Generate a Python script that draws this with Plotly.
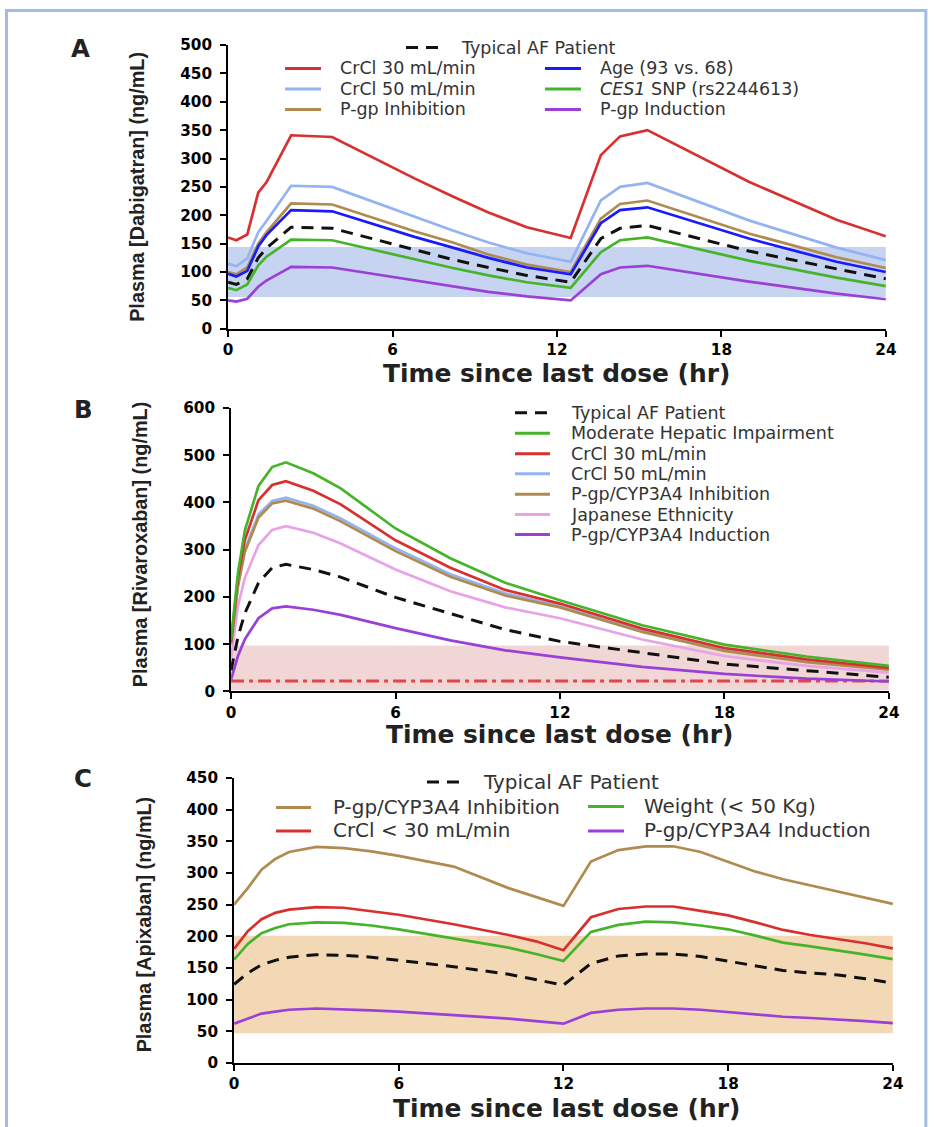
import plotly.graph_objects as go

# Figure fills the page (with the body's default 8px margin) and the photo of the
# page is scaled back to 938x1127, so reference pixel positions are mapped through
# that scale below.
W, H = 938, 1127
MARG = 8
KX = W / (W + 2 * MARG)
KY = H / (H + 2 * MARG)

# ---------------- Panel A: Dabigatran ----------------
tA = [0, 0.3, 0.7, 1.1, 1.4, 2.3, 3.8, 6.8, 8.2, 9.5, 10.9, 12.5, 13.6, 14.3, 15.3, 19, 22.2, 24]
dab_typical = [82, 78, 88, 125, 142, 179, 177, 139, 122, 108, 94, 82, 159, 177, 182, 137, 105, 88]
dab_crcl30 = [161, 156, 166, 240, 258, 341, 338, 265, 233, 205, 179, 160, 306, 339, 350, 259, 192, 163]
dab_crcl50 = [115, 110, 124, 170, 190, 252, 250, 197, 173, 152, 133, 118, 226, 250, 257, 191, 143, 121]
dab_pgp_inh = [100, 96, 108, 150, 170, 221, 219, 172, 152, 131, 113, 100, 194, 220, 226, 168, 126, 107]
dab_age = [97, 92, 102, 145, 165, 209, 207, 162, 143, 125, 108, 96, 186, 209, 214, 159, 118, 100]
dab_ces1 = [72, 68, 78, 112, 127, 157, 156, 122, 107, 94, 82, 72, 135, 156, 161, 120, 90, 75]
dab_pgp_ind = [50, 48, 53, 74, 85, 109, 108, 85, 75, 65, 57, 50, 96, 108, 111, 83, 62, 52]
bandA = [56, 144]

# ---------------- Panel B: Rivaroxaban ----------------
tB = [0, 0.25, 0.5, 1, 1.5, 2, 3, 4, 6, 8, 10, 12, 15, 18, 21, 24]
riv_typical = [45, 115, 165, 230, 262, 269, 258, 242, 199, 165, 131, 106, 82, 58, 44, 30]
riv_hepatic = [110, 250, 340, 435, 475, 485, 462, 430, 345, 282, 230, 193, 140, 99, 74, 54]
riv_crcl30 = [105, 240, 320, 405, 437, 445, 425, 396, 320, 262, 215, 186, 133, 92, 68, 50]
riv_crcl50 = [100, 225, 300, 375, 403, 410, 393, 366, 303, 248, 208, 181, 128, 88, 64, 47]
riv_inh = [100, 222, 295, 368, 398, 404, 387, 360, 297, 243, 203, 178, 126, 86, 62, 46]
riv_japanese = [70, 180, 240, 310, 342, 350, 336, 313, 258, 212, 178, 155, 110, 75, 54, 40]
riv_ind = [25, 75, 110, 155, 176, 180, 173, 162, 134, 108, 87, 72, 52, 37, 27, 21]
bandB = [3, 97]
riv_line = 22

# ---------------- Panel C: Apixaban ----------------
tC = [0, 0.5, 1, 1.5, 2, 3, 4, 5, 6, 8, 10, 11, 12, 13, 14, 15, 16, 17, 18, 19, 20, 21, 22, 23, 24]
api_typical = [124, 142, 155, 162, 167, 171, 170, 167, 162, 152, 140, 132, 123, 157, 169, 172, 172, 168, 161, 153, 146, 142, 139, 133, 126]
api_inh = [250, 276, 305, 322, 333, 341, 339, 334, 327, 310, 276, 262, 248, 318, 336, 342, 342, 333, 317, 302, 290, 280, 271, 260, 251]
api_crcl = [180, 208, 227, 237, 242, 246, 245, 240, 234, 219, 202, 192, 178, 230, 243, 247, 247, 240, 233, 222, 210, 202, 196, 189, 181]
api_weight = [163, 188, 205, 213, 219, 222, 221, 217, 211, 197, 182, 172, 161, 207, 218, 223, 222, 217, 211, 201, 190, 184, 178, 171, 164]
api_ind = [62, 70, 78, 81, 84, 86, 85, 83, 81, 76, 70, 66, 62, 79, 84, 86, 86, 84, 80, 77, 73, 71, 69, 66, 63]
bandC = [47, 201]

xticks = [0, 6, 12, 18, 24]

RED = "#d8302f"
LBLUE = "#93b3f2"
BROWN = "#b08b4f"
BLUE = "#1a1aff"
GREEN = "#46b42a"
PURPLE = "#9a40d8"
PINK = "#e8a2e6"
BLACK = "#111111"
DASH = "12px,8px"


def px(x):
    return (x / KX - MARG) / W


def py(y):
    return 1 - (y / KY - MARG) / H


def fs(s):
    return round(s / KX, 2)


fig = go.Figure()

panels = [
    ("x", "y", tA, [
        (dab_typical, BLACK, DASH),
        (dab_crcl30, RED, "solid"),
        (dab_crcl50, LBLUE, "solid"),
        (dab_pgp_inh, BROWN, "solid"),
        (dab_age, BLUE, "solid"),
        (dab_ces1, GREEN, "solid"),
        (dab_pgp_ind, PURPLE, "solid"),
    ]),
    ("x2", "y2", tB, [
        (riv_ind, PURPLE, "solid"),
        (riv_japanese, PINK, "solid"),
        (riv_crcl50, LBLUE, "solid"),
        (riv_inh, BROWN, "solid"),
        (riv_crcl30, RED, "solid"),
        (riv_hepatic, GREEN, "solid"),
        (riv_typical, BLACK, DASH),
    ]),
    ("x3", "y3", tC, [
        (api_inh, BROWN, "solid"),
        (api_crcl, RED, "solid"),
        (api_weight, GREEN, "solid"),
        (api_ind, PURPLE, "solid"),
        (api_typical, BLACK, DASH),
    ]),
]

# therapeutic range bands (drawn in data coordinates)
for (xr, yr, band, col) in [("x", "y", bandA, "#c6d4f1"), ("x2", "y2", bandB, "#f1d6d6"), ("x3", "y3", bandC, "#f3d8b6")]:
    fig.add_shape(type="rect", xref=xr, yref=yr, x0=0, x1=24, y0=band[0], y1=band[1],
                  fillcolor=col, line=dict(width=0), layer="below")

# dash-dot reference line in B
fig.add_trace(go.Scatter(x=[0, 24], y=[riv_line, riv_line], mode="lines", xaxis="x2", yaxis="y2",
                         line=dict(color="#e0474a", width=3, dash="13px,5px,4px,5px"), showlegend=False,
                         hoverinfo="skip"))

for xr, yr, t, series in panels:
    for vals, col, dash in series:
        fig.add_trace(go.Scatter(x=t, y=vals, mode="lines", xaxis=xr, yaxis=yr,
                                 line=dict(color=col, width=3 if dash != "solid" else 2.7, dash=dash),
                                 showlegend=False))

tickfont = dict(family="DejaVu Sans", size=fs(15), color="black", weight="bold")


def xaxis_cfg(x0, x1, anchor):
    return dict(domain=[px(x0), px(x1)], range=[0, 24], tickvals=xticks, showline=True, linewidth=2,
                linecolor="black", ticks="outside", ticklen=6, tickwidth=2, tickcolor="black",
                showgrid=False, zeroline=False, tickfont=tickfont, anchor=anchor, fixedrange=True)


def yaxis_cfg(ybot, ytop, rmax, dtick, anchor):
    return dict(domain=[py(ybot), py(ytop)], range=[0, rmax], dtick=dtick, showline=True, linewidth=2,
                linecolor="black", ticks="outside", ticklen=6, tickwidth=2, tickcolor="black",
                showgrid=False, zeroline=False, tickfont=tickfont, anchor=anchor,
                ticklabelstandoff=5, fixedrange=True)


fig.update_layout(
    width=W, height=H, margin=dict(l=0, r=0, t=0, b=0),
    paper_bgcolor="white", plot_bgcolor="rgba(0,0,0,0)", showlegend=False,
    xaxis=xaxis_cfg(231, 889, "y"),
    yaxis=yaxis_cfg(328.3, 44, 500, 50, "x"),
    xaxis2=xaxis_cfg(234, 892, "y2"),
    yaxis2=yaxis_cfg(691.7, 407.7, 600, 100, "x2"),
    xaxis3=xaxis_cfg(237, 896, "y3"),
    yaxis3=yaxis_cfg(1064, 778.3, 450, 50, "x3"),
)

ann = []
shapes = []

# outer light-blue frame
shapes.append(dict(type="rect", xref="paper", yref="paper", x0=1.5 / W, x1=px(929), y0=-0.05, y1=1 - 1.5 / H,
                   line=dict(color="#a3bde0", width=3), fillcolor="rgba(0,0,0,0)"))

title_font = dict(family="DejaVu Sans", size=fs(24.5), color="#222222", weight="bold")
ytitle_font = dict(family="Liberation Sans", size=fs(19.5), color="#222222", weight="bold")
letter_font = dict(family="DejaVu Sans", size=fs(24), color="#222222", weight="bold")
legA_font = dict(family="DejaVu Sans", size=fs(17.2), color="#333333")
legB_font = dict(family="DejaVu Sans", size=fs(17.2), color="#333333")
legC_font = dict(family="DejaVu Sans", size=fs(19.6), color="#333333")

for letter, (lx, ly) in zip(["A", "B", "C"], [(83, 47), (86, 409), (86, 779)]):
    ann.append(dict(text=letter, x=px(lx), y=py(ly), xref="paper", yref="paper", showarrow=False,
                    xanchor="center", yanchor="middle", font=letter_font))

for (cx, cy) in [(560, 373), (563, 735), (570, 1110)]:
    ann.append(dict(text="Time since last dose (hr)", x=px(cx), y=py(cy), xref="paper", yref="paper",
                    showarrow=False, xanchor="center", yanchor="middle", font=title_font))

for txt, (cx, cy) in zip(["Plasma [Dabigatran] (ng/mL)", "Plasma [Rivaroxaban] (ng/mL)", "Plasma [Apixaban] (ng/mL)"],
                         [(140, 186), (143, 545), (147, 925)]):
    ann.append(dict(text=txt, x=px(cx), y=py(cy), xref="paper", yref="paper", showarrow=False,
                    xanchor="center", yanchor="middle", textangle=-90, font=ytitle_font))


def legend_item(x0, x1, y, tx, text, color, font, dash="solid"):
    shapes.append(dict(type="line", xref="paper", yref="paper", x0=px(x0), x1=px(x1), y0=py(y), y1=py(y),
                       line=dict(color=color, width=3, dash=dash)))
    ann.append(dict(text=text, x=px(tx), y=py(y), xref="paper", yref="paper", showarrow=False,
                    xanchor="left", yanchor="middle", font=font))


# Legend A
legA_names = ["CrCl 30 mL/min", "CrCl 50 mL/min", "P-gp Inhibition",
              "Age (93 vs. 68)", "<i>CES1</i> SNP (rs2244613)", "P-gp Induction"]
legA_colors = [RED, LBLUE, BROWN, BLUE, GREEN, PURPLE]
legend_item(409, 444, 46.5, 462, "Typical AF Patient", BLACK, legA_font, DASH)
rowsA = [67.5, 88, 108.5]
for i in range(3):
    legend_item(288, 324, rowsA[i], 341, legA_names[i], legA_colors[i], legA_font)
    legend_item(548, 584, rowsA[i], 601, legA_names[i + 3], legA_colors[i + 3], legA_font)

# Legend B
legB_names = ["Typical AF Patient", "Moderate Hepatic Impairment", "CrCl 30 mL/min", "CrCl 50 mL/min",
              "P-gp/CYP3A4 Inhibition", "Japanese Ethnicity", "P-gp/CYP3A4 Induction"]
legB_colors = [BLACK, GREEN, RED, LBLUE, BROWN, PINK, PURPLE]
rowsB = [412.5, 433, 453.5, 473.5, 494, 514.5, 534.5]
for i in range(7):
    legend_item(518, 553, rowsB[i], 572, legB_names[i], legB_colors[i], legB_font,
                DASH if i == 0 else "solid")

# Legend C
legend_item(430, 465, 782.5, 484, "Typical AF Patient", BLACK, legC_font, DASH)
legend_item(279, 314, 808, 334, "P-gp/CYP3A4 Inhibition", BROWN, legC_font)
legend_item(279, 314, 831.5, 334, "CrCl &lt; 30 mL/min", RED, legC_font)
legend_item(591, 627, 807, 645, "Weight (&lt; 50 Kg)", GREEN, legC_font)
legend_item(591, 627, 831.5, 645, "P-gp/CYP3A4 Induction", PURPLE, legC_font)

fig.update_layout(annotations=ann, shapes=list(fig.layout.shapes) + shapes)

fig.write_html("out.html")
